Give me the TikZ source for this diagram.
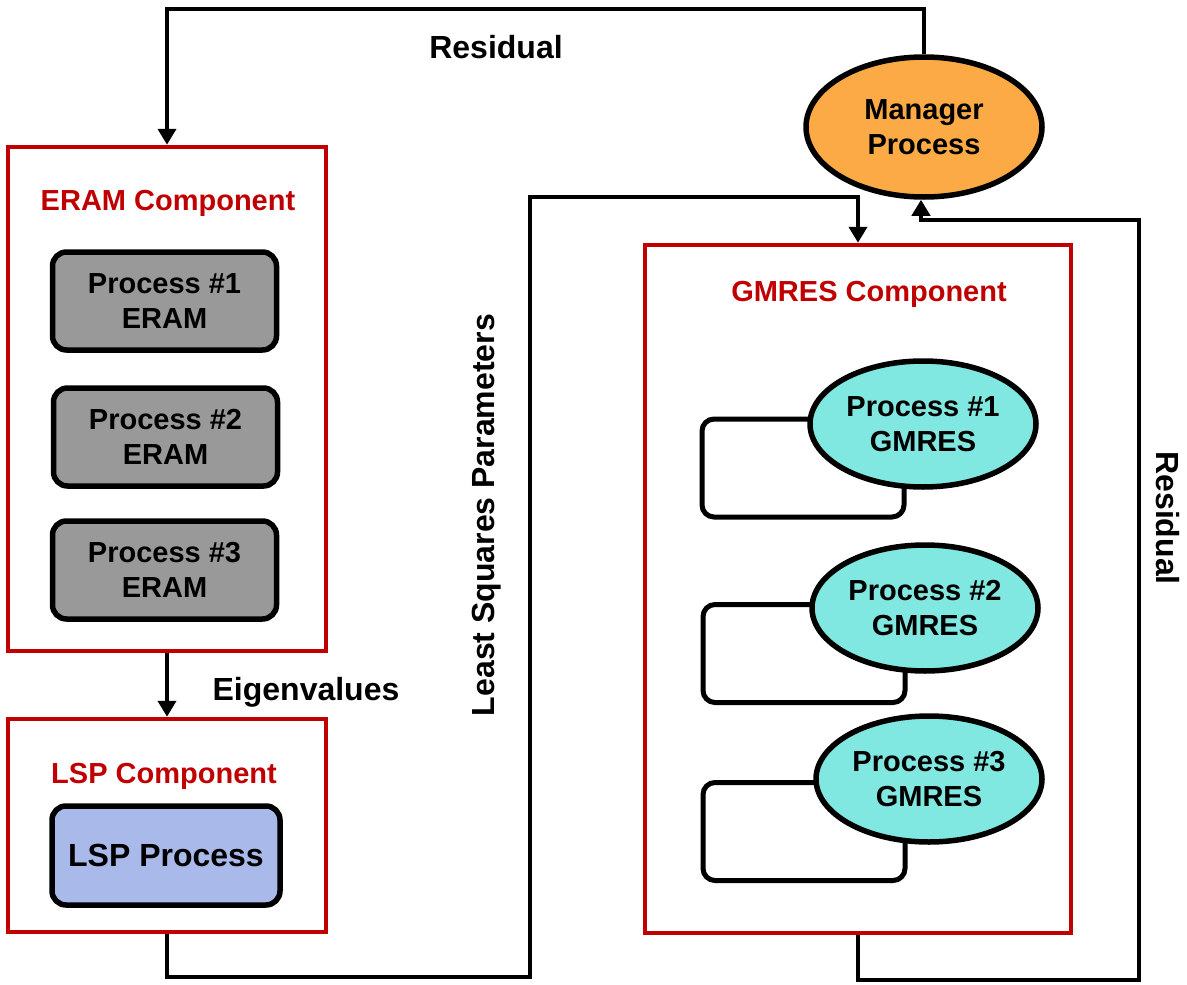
\documentclass[tikz,border=0pt]{standalone}
\usepackage{fontspec}
\setmainfont{Liberation Sans}
\usetikzlibrary{shapes.geometric,arrows.meta}
\definecolor{cred}{HTML}{C00000}
\definecolor{cgray}{HTML}{999999}
\definecolor{cblue}{HTML}{A9B9EA}
\definecolor{corange}{HTML}{FBAA45}
\definecolor{ccyan}{HTML}{80E8E0}
\tikzset{
  comp/.style={draw=cred,line width=4.5pt,rectangle,inner sep=0pt},
  ctitle/.style={text=cred,font=\bfseries\fontsize{29}{35}\selectfont},
  procbox/.style={draw=black,line width=5.5pt,rounded corners=14pt,fill=cgray,align=center,
    minimum width=224pt,minimum height=98pt,inner sep=0pt,font=\bfseries\fontsize{29}{35}\selectfont},
  procell/.style={draw=black,line width=5.5pt,ellipse,fill=ccyan,align=center,
    minimum width=226pt,minimum height=126pt,inner sep=0pt,font=\bfseries\fontsize{29}{35}\selectfont},
  loopbox/.style={draw=black,line width=5pt,rounded corners=12pt,rectangle,
    minimum width=202pt,minimum height=98pt,inner sep=0pt},
  conn/.style={draw=black,line width=4.5pt},
  arr/.style={conn,-{Triangle[length=16pt,width=18pt]}},
  lbl/.style={font=\bfseries\fontsize{32}{38}\selectfont}
}
\begin{document}
\begin{tikzpicture}[x=1pt,y=-1pt]
\useasboundingbox (0,0) rectangle (1187,985);
% components
\node[comp,minimum width=318pt,minimum height=504pt] (eram) at (167,399) {};
\node[ctitle] (eramt) at (168,203) {ERAM Component};
\node[procbox] (e1) at (164.5,301) {Process \#1\\ERAM};
\node[procbox] (e2) at (165.5,437) {Process \#2\\ERAM};
\node[procbox] (e3) at (164.5,570) {Process \#3\\ERAM};

\node[comp,minimum width=318pt,minimum height=213pt] (lsp) at (167,825.5) {};
\node[ctitle] (lspt) at (164,776) {LSP Component};
\node[procbox,fill=cblue,minimum width=228pt,minimum height=99pt,font=\bfseries\fontsize{32}{38}\selectfont] (lspp) at (166,855.5) {LSP Process};

\node[comp,minimum width=426pt,minimum height=688pt] (gmres) at (858,589) {};
\node[ctitle] (gmrest) at (869,294) {GMRES Component};

% self loops
\node[loopbox] (l1) at (803,468) {};
\node[loopbox] (l2) at (804,653.5) {};
\node[loopbox] (l3) at (804,831.5) {};
\node[procell] (g1) at (923,424) {Process \#1\\GMRES};
\node[procell] (g2) at (925,608) {Process \#2\\GMRES};
\node[procell] (g3) at (929,779) {Process \#3\\GMRES};

\node[procell,fill=corange,minimum width=236pt,minimum height=140pt] (mgr) at (924,127) {Manager\\Process};

% connectors
\coordinate (t1) at (924,9);
\draw[arr] (mgr.north) -- (t1) -| (eram.north);
\draw[arr] (eram.south) -- (lsp.north);
\coordinate (q1) at (530,977);
\coordinate (q2) at (530,197);
\draw[arr] (lsp.south) |- (q1) -- (q2) -| (gmres.north);
\coordinate (r1) at (1139,980);
\coordinate (r2) at (1139,220);
\draw[arr] (gmres.south) |- (r1) -- (r2) -| ([xshift=-3pt]mgr.south);

% labels
\node[lbl] (lres) at (496,47) {Residual};
\node[lbl] (leig) at (306,692) {Eigenvalues};
\node[lbl,rotate=90] (llsq) at (487,515) {Least Squares Parameters};
\node[lbl,rotate=-90] (lres2) at (1168,518) {Residual};
\end{tikzpicture}
\end{document}
